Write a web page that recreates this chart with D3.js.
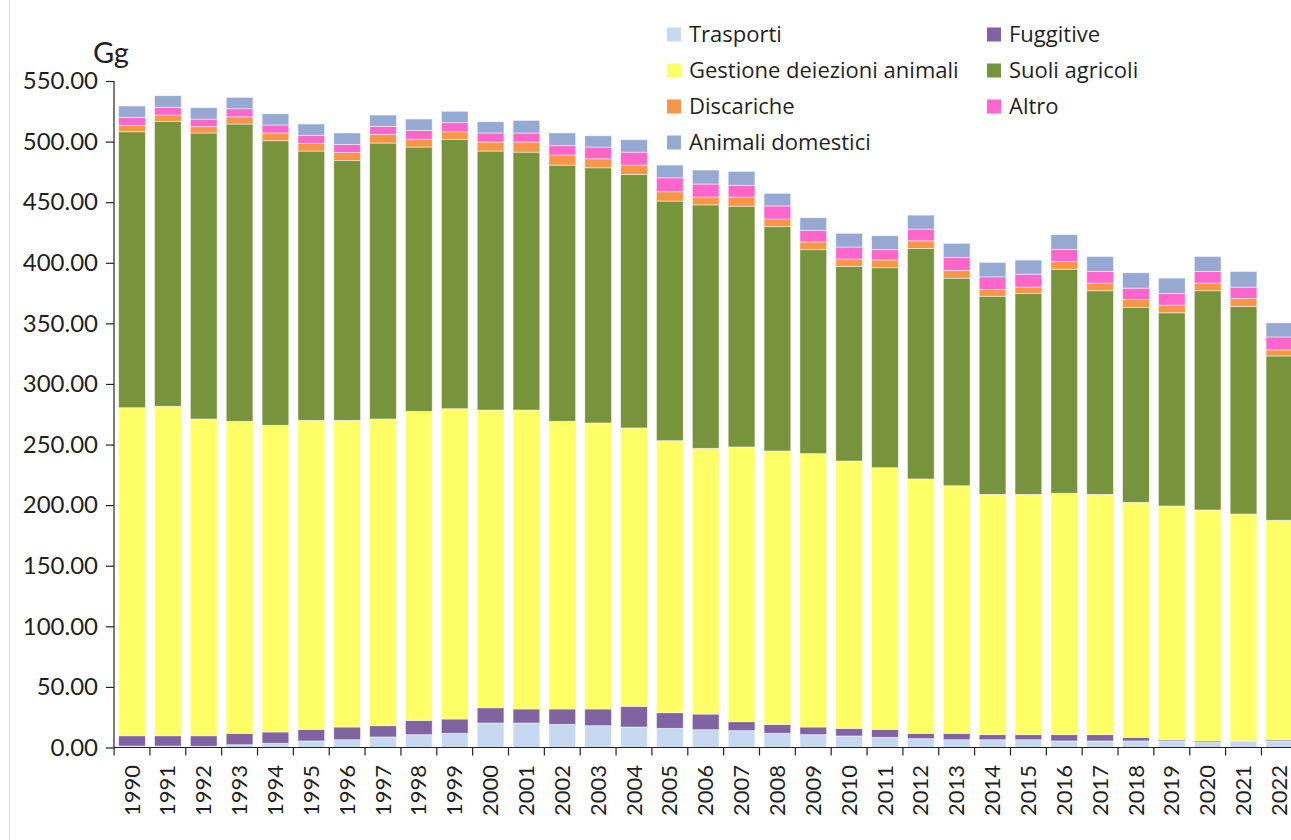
<!DOCTYPE html>
<html>
<head>
<meta charset="utf-8">
<script src="https://cdn.jsdelivr.net/npm/d3@7"></script>
<style>
  html, body { margin: 0; padding: 0; background: #fff; }
  svg { display: block; font-family: Lato, "Open Sans", sans-serif; }
</style>
</head>
<body>
<svg id="chart" width="1291" height="840"></svg>
<script>
const years = ["1990","1991","1992","1993","1994","1995","1996","1997","1998","1999","2000","2001","2002","2003","2004","2005","2006","2007","2008","2009","2010","2011","2012","2013","2014","2015","2016","2017","2018","2019","2020","2021","2022"];

const trasporti = [1.2,1.2,1.0,2.3,3.5,5.4,6.4,8.7,10.6,11.7,20.2,20.2,19.1,18.0,16.9,15.8,14.7,13.9,11.7,10.6,9.5,8.4,7.3,6.4,6.4,6.4,5.4,5.4,5.4,5.4,4.3,5.3,5.4];
const fuggitive = [8.5,8.5,8.7,9.4,9.3,9.6,10.5,9.3,11.8,11.8,12.6,11.6,12.7,13.8,17.1,12.9,12.9,7.4,7.4,6.3,6.3,6.6,4.4,5.3,4.2,4.2,5.2,5.2,3.0,1.0,1.1,0.2,1.0];
const gestioneDeiezioni = [270.7,271.9,261.4,257.5,253.1,255.0,253.1,253.1,255.0,256.1,245.7,246.7,237.4,236.0,229.7,224.5,219.3,226.7,225.6,225.6,220.6,215.9,209.9,204.3,198.3,198.3,199.2,198.3,193.9,192.9,190.6,187.2,181.1];
const suoliAgricoli = [227.7,235.1,236.0,245.3,234.8,222.2,214.3,227.7,218.1,222.3,213.7,212.8,211.4,210.6,209.2,197.7,200.9,198.7,185.1,168.3,160.7,165.0,190.2,171.3,163.5,165.8,184.9,168.0,160.8,159.4,180.9,171.2,135.6];
const discariche = [5.3,5.2,5.2,6.0,6.4,6.3,6.6,7.1,6.4,6.2,7.4,8.3,8.3,7.4,7.7,7.7,6.4,7.5,6.3,6.4,6.0,6.4,6.3,6.4,5.6,5.2,6.4,6.3,6.6,6.3,6.3,6.7,5.0];
const altro = [6.6,6.4,6.3,6.6,6.6,6.7,6.8,6.7,7.4,7.5,7.5,7.5,7.7,9.7,10.7,11.5,10.8,9.7,10.8,9.6,9.9,8.5,9.7,10.7,10.4,10.7,9.9,9.6,9.4,9.7,9.6,9.3,10.7];
const animaliDomestici = [9.4,9.6,9.4,9.4,9.3,9.3,9.4,9.3,9.3,9.4,9.3,10.4,10.5,9.3,10.2,10.5,11.5,11.5,10.4,10.4,11.3,11.5,11.5,11.6,11.9,11.6,12.2,12.4,12.6,12.6,12.4,12.9,11.6];

const seriesNames = ["Trasporti","Fuggitive","Gestione deiezioni animali","Suoli agricoli","Discariche","Altro","Animali domestici"];
const seriesColors = ["#c6d9f0","#8064a2","#ffff66","#77933c","#f79646","#ff66cc","#95a9d3"];
const yTicks = [0,50,100,150,200,250,300,350,400,450,500,550];
const unitLabel = "Gg";

const seriesValues = [trasporti, fuggitive, gestioneDeiezioni, suoliAgricoli, discariche, altro, animaliDomestici];
const table = years.map((y, i) => {
  const row = { year: y };
  seriesNames.forEach((s, k) => row[s] = seriesValues[k][i]);
  return row;
});

const svg = d3.select("#chart");
const textColor = "#1f1f1f";

const x = d3.scaleBand().domain(years).range([114, 1297.4]).paddingInner(0.255).paddingOuter(0.13);
const y = d3.scaleLinear().domain([0, 550]).range([747.5, 81]);

// left border of the chart area
svg.append("line").attr("x1", 9.5).attr("x2", 9.5).attr("y1", 0).attr("y2", 840)
  .attr("stroke", "#d9d9d9").attr("stroke-width", 1);

const stack = d3.stack().keys(seriesNames);
const stacked = stack(table);
const color = d3.scaleOrdinal().domain(seriesNames).range(seriesColors);

svg.append("g").selectAll("g").data(stacked).join("g")
  .attr("fill", d => color(d.key))
  .selectAll("rect").data(d => d).join("rect")
  .attr("x", d => x(d.data.year))
  .attr("width", x.bandwidth())
  .attr("y", d => y(d[1]))
  .attr("height", d => Math.max(0, y(d[0]) - y(d[1])))
  .attr("stroke", "#ffffff").attr("stroke-opacity", 0.6).attr("stroke-width", 0.8);

// Y axis
const yAxis = d3.axisLeft(y).tickValues(yTicks).tickFormat(d3.format(".2f")).tickSize(8).tickPadding(8);
const gy = svg.append("g").attr("transform", "translate(114,0)").call(yAxis);
gy.select(".domain").attr("stroke", "#222").attr("stroke-width", 1.2).attr("d", "M0," + y(550) + "V" + y(0));
gy.selectAll(".tick line").attr("stroke", "#222").attr("stroke-width", 1.2);
gy.selectAll(".tick text").attr("fill", textColor).style("font-size", "24px").style("font-family", "Lato, 'Open Sans', sans-serif");

// X axis (ticks between categories)
const gx = svg.append("g");
const step = x.step();
const half = (step - x.bandwidth()) / 2;
gx.append("line").attr("x1", 114).attr("x2", 1300).attr("y1", y(0)).attr("y2", y(0))
  .attr("stroke", "#222").attr("stroke-width", 1.2);
gx.selectAll("line.tk").data(years.concat(["end"])).join("line").attr("class", "tk")
  .attr("x1", (d, i) => i < years.length ? x(d) - half : x(years[years.length - 1]) + x.bandwidth() + half)
  .attr("x2", (d, i) => i < years.length ? x(d) - half : x(years[years.length - 1]) + x.bandwidth() + half)
  .attr("y1", y(0)).attr("y2", y(0) + 8)
  .attr("stroke", "#222").attr("stroke-width", 1.2);
gx.selectAll("text").data(years).join("text")
  .attr("transform", d => `translate(${x(d) + x.bandwidth() / 2 + 0.3},765) rotate(-90)`)
  .attr("text-anchor", "end").attr("dy", "0.33em")
  .attr("fill", textColor).style("font-size", "22px")
  .text(d => d);

// Unit label
svg.append("text").attr("x", 93).attr("y", 63).attr("fill", textColor)
  .style("font-size", "29px").text(unitLabel);

// Legend
const legendPos = [
  [667, 34.5], [987, 34.5],
  [667, 70.5], [987, 70.5],
  [667, 106.5], [987, 106.5],
  [667, 142.5]
];
const lg = svg.append("g");
seriesNames.forEach((s, k) => {
  const [lx, ly] = legendPos[k];
  lg.append("rect").attr("x", lx).attr("y", ly - 7).attr("width", 14).attr("height", 14).attr("fill", color(s));
  lg.append("text").attr("x", lx + 22).attr("y", ly).attr("dy", "0.35em")
    .attr("fill", textColor).style("font-size", "22px").style("font-family", "'Open Sans', Lato, sans-serif").text(s);
});
</script>
</body>
</html>
